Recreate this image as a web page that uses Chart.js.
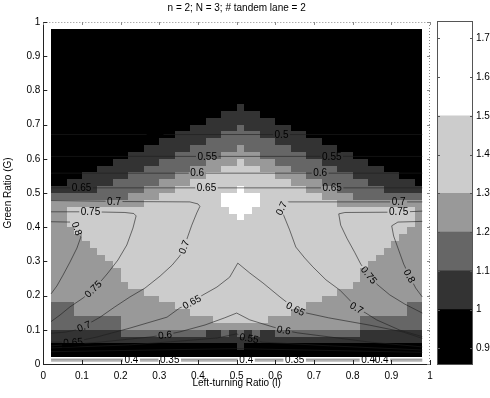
<!DOCTYPE html>
<html>
<head>
<meta charset="utf-8">
<script src="https://cdn.jsdelivr.net/npm/chart.js@4.4.0/dist/chart.umd.min.js"></script>
<style>
  html, body { margin: 0; padding: 0; background: #fff; }
  #wrap { position: relative; width: 490px; height: 398px; }
  #main { position: absolute; left: 0; top: 0; }
  #bar { position: absolute; left: 430px; top: 0; }
</style>
</head>
<body>
<div id="wrap">
  <canvas id="main" width="490" height="398"></canvas>
  <canvas id="bar" width="60" height="398"></canvas>
</div>
<script>
// grid nodes (left-turning ratio l, green ratio G)
const ratioL = [0.02,0.04,0.06,0.08,0.10,0.12,0.14,0.16,0.18,0.20,0.22,0.24,0.26,0.28,0.30,0.32,0.34,0.36,0.38,0.40,0.42,0.44,0.46,0.48,0.50,0.52,0.54,0.56,0.58,0.60,0.62,0.64,0.66,0.68,0.70,0.72,0.74,0.76,0.78,0.80,0.82,0.84,0.86,0.88,0.90,0.92,0.94,0.96,0.98];
const ratioG = [0.02,0.04,0.06,0.08,0.10,0.12,0.14,0.16,0.18,0.20,0.22,0.24,0.26,0.28,0.30,0.32,0.34,0.36,0.38,0.40,0.42,0.44,0.46,0.48,0.50,0.52,0.54,0.56,0.58,0.60,0.62,0.64,0.66,0.68,0.70,0.72,0.74,0.76,0.78,0.80,0.82,0.84,0.86,0.88,0.90,0.92,0.94,0.96,0.98];

// colour band of each cell (0: <1.0, 1: 1.0-1.1, 2: 1.1-1.2, 3: 1.2-1.3, 4: 1.3-1.5, 5: >1.5), top row first
const bandRows = [
  '0000000000000000000000000' + '00000000000000000000000',
  '0000000000000000000000000' + '00000000000000000000000',
  '0000000000000000000000000' + '00000000000000000000000',
  '0000000000000000000000000' + '00000000000000000000000',
  '0000000000000000000000000' + '00000000000000000000000',
  '0000000000000000000000000' + '00000000000000000000000',
  '0000000000000000000000000' + '00000000000000000000000',
  '0000000000000000000000000' + '00000000000000000000000',
  '0000000000000000000000000' + '00000000000000000000000',
  '0000000000000000000000000' + '00000000000000000000000',
  '0000000000000000000000000' + '00000000000000000000000',
  '0000000000000000000000001' + '00000000000000000000000',
  '0000000000000000000000111' + '11000000000000000000000',
  '0000000000000000000011111' + '11110000000000000000000',
  '0000000000000000001111112' + '11111100000000000000000',
  '0000000000000000111111222' + '22111111000000000000000',
  '0000000000000011111122222' + '22221111110000000000000',
  '0000000000001111112222223' + '22222211111100000000000',
  '0000000000111111222222333' + '33222222111111000000000',
  '0000000011111122222233334' + '33332222221111110000000',
  '0000001111112222223333444' + '44333322222211111100000',
  '0000111111222222333344444' + '44443333222222111111000',
  '0011111122222233334444444' + '44444433332222221111110',
  '1111112222223333444444445' + '44444444333322222211111',
  '2222222222333344444444555' + '55444444443333222222222',
  '3333333333334444444444555' + '55444444444433333333333',
  '3344444444444444444444455' + '54444444444444444444443',
  '3344444444444444444444445' + '44444444444444444444443',
  '3344444444444444444444444' + '44444444444444444444443',
  '3334444444444444444444444' + '44444444444444444444433',
  '3333444444444444444444444' + '44444444444444444444333',
  '3333344444444444444444444' + '44444444444444444443333',
  '3333334444444444444444444' + '44444444444444444433333',
  '3333333444444444444444444' + '44444444444444444333333',
  '3333333344444444444444444' + '44444444444444443333333',
  '3333333334444444444444444' + '44444444444444433333333',
  '3333333334444444444444444' + '44444444444444433333333',
  '3333333333444444444444444' + '44444444444444333333333',
  '3333333333334444444444444' + '44444444444433333333333',
  '3333333333333344444444444' + '44444444443333333333333',
  '2223333333333333444444444' + '44444444333333333333322',
  '2223333333333333334444444' + '44444433333333333333322',
  '2222222223333333333334444' + '44433333333333322222222',
  '2222222223333333333333333' + '33333333333333322222222',
  '1111111112222222222211212' + '12112222222222211111111',
  '1111111111111111111111111' + '11111111111111111111111',
  '0000000000000000000000001' + '00000000000000000000000',
  '0000000000000000000000000' + '00000000000000000000000'
];

const bandEdges = [0.857, 1.0, 1.1, 1.2, 1.3, 1.5, 1.745];
const bandShades = ['#000000', '#333333', '#666666', '#999999', '#cccccc', '#ffffff'];

// contour lines [l, G]
const c050 = [[0.02,0.671],[0.98,0.671]];
const c055 = [[0.02,0.607],[0.98,0.607]];
const c060 = [[0.02,0.558],[0.98,0.558]];
const c065 = [[0.02,0.515],[0.98,0.515]];
const c070left = [[0.02,0.478],[0.159,0.476],[0.209,0.475],[0.379,0.474],[0.4,0.468],[0.405,0.461],[0.397,0.442],[0.384,0.406],[0.374,0.374],[0.364,0.342],[0.353,0.316],[0.333,0.289],[0.302,0.257],[0.263,0.222],[0.224,0.196],[0.185,0.167],[0.147,0.137],[0.105,0.11],[0.087,0.1],[0.056,0.093],[0.02,0.09]];
const c070right = [[0.98,0.474],[0.919,0.474],[0.635,0.474],[0.622,0.469],[0.616,0.455],[0.619,0.442],[0.637,0.392],[0.653,0.342],[0.676,0.31],[0.697,0.284],[0.731,0.246],[0.767,0.216],[0.792,0.187],[0.81,0.164],[0.834,0.149],[0.862,0.129],[0.922,0.099],[0.98,0.08]];
const c075left = [[0.02,0.445],[0.122,0.445],[0.211,0.443],[0.234,0.44],[0.24,0.433],[0.232,0.398],[0.216,0.348],[0.193,0.304],[0.167,0.266],[0.152,0.246],[0.129,0.219],[0.103,0.193],[0.069,0.167],[0.043,0.143],[0.02,0.124]];
const c075right = [[0.98,0.447],[0.919,0.444],[0.78,0.443],[0.764,0.439],[0.769,0.406],[0.785,0.368],[0.805,0.327],[0.821,0.292],[0.842,0.26],[0.862,0.234],[0.896,0.202],[0.935,0.175],[0.98,0.149]];
const c080left = [[0.02,0.416],[0.069,0.415],[0.087,0.396],[0.097,0.371],[0.087,0.339],[0.069,0.298],[0.051,0.26],[0.035,0.228],[0.02,0.205]];
const c080right = [[0.98,0.417],[0.917,0.415],[0.901,0.404],[0.906,0.374],[0.919,0.333],[0.932,0.292],[0.947,0.257],[0.963,0.222],[0.98,0.196]];
const c065low = [[0.02,0.064],[0.077,0.064],[0.139,0.079],[0.224,0.105],[0.32,0.137],[0.353,0.164],[0.384,0.181],[0.413,0.202],[0.449,0.225],[0.482,0.254],[0.503,0.295],[0.534,0.266],[0.568,0.237],[0.612,0.196],[0.652,0.161],[0.681,0.149],[0.738,0.135],[0.842,0.114],[0.929,0.094],[0.98,0.075]];
const c060low = [[0.02,0.053],[0.147,0.064],[0.276,0.079],[0.315,0.085],[0.353,0.094],[0.418,0.114],[0.469,0.135],[0.5,0.149],[0.534,0.129],[0.586,0.111],[0.622,0.099],[0.658,0.091],[0.741,0.079],[0.844,0.064],[0.98,0.05]];
const c055low = [[0.02,0.047],[0.224,0.056],[0.353,0.067],[0.449,0.076],[0.5,0.088],[0.532,0.075],[0.565,0.064],[0.741,0.053],[0.98,0.041]];
const c050low = [[0.02,0.036],[0.5,0.045],[0.98,0.034]];
const c040 = [[0.02,0.014],[0.98,0.014]];
const c035 = [[0.02,0.009],[0.98,0.009]];

// [text, l, G, angle in degrees]
const contourLabels = [
  ['0.5', 0.289, 0.671, 0], ['0.5', 0.616, 0.671, 0],
  ['0.55', 0.424, 0.607, 0], ['0.55', 0.746, 0.607, 0],
  ['0.6', 0.398, 0.558, 0], ['0.6', 0.716, 0.558, 0],
  ['0.65', 0.099, 0.515, 0], ['0.65', 0.422, 0.515, 0], ['0.65', 0.747, 0.515, 0],
  ['0.7', 0.183, 0.475, 0], ['0.7', 0.364, 0.342, -68], ['0.7', 0.105, 0.11, -22],
  ['0.7', 0.919, 0.474, 0], ['0.7', 0.616, 0.455, -65], ['0.7', 0.81, 0.164, 30],
  ['0.75', 0.122, 0.445, 0], ['0.75', 0.129, 0.219, -45],
  ['0.75', 0.919, 0.444, 0], ['0.75', 0.842, 0.26, 52],
  ['0.8', 0.087, 0.396, 70], ['0.8', 0.947, 0.257, 62],
  ['0.65', 0.077, 0.064, -4], ['0.65', 0.384, 0.181, -28], ['0.65', 0.652, 0.161, 27],
  ['0.6', 0.315, 0.085, -6], ['0.6', 0.622, 0.099, 12],
  ['0.55', 0.532, 0.075, 10],
  ['0.4', 0.228, 0.012, 0], ['0.35', 0.327, 0.012, 0], ['0.4', 0.525, 0.012, 0],
  ['0.35', 0.65, 0.012, 0], ['0.4', 0.84, 0.012, 0], ['0.4', 0.875, 0.012, 0]
];

const fontFam = "'Liberation Sans', Arial, Helvetica, sans-serif";
const textFont = { family: fontFam, size: 10, weight: 'normal' };
const tickText = v => String(Math.round(v * 10) / 10);

const lineSet = pts => ({
  data: pts.map(p => ({ x: p[0], y: p[1] })),
  showLine: true,
  borderColor: '#1e1e1e',
  borderWidth: 0.6,
  pointRadius: 0,
  pointHoverRadius: 0,
  tension: 0,
  fill: false
});

const shadePlugin = {
  id: 'shades',
  beforeDatasetsDraw(chart) {
    const { ctx, scales: { x, y } } = chart;
    const n = bandRows.length;
    ctx.save();
    bandRows.forEach((row, r) => {
      const j = n - 1 - r;
      const top = Math.round(y.getPixelForValue(ratioG[j + 1]));
      const bot = Math.round(y.getPixelForValue(ratioG[j]));
      for (let k = 0; k < row.length; k++) {
        const left = Math.round(x.getPixelForValue(ratioL[k]));
        const right = Math.round(x.getPixelForValue(ratioL[k + 1]));
        ctx.fillStyle = bandShades[Number(row[k])];
        ctx.fillRect(left, top, right - left, bot - top);
      }
    });
    ctx.restore();
    // leave gaps in the contour lines where the labels sit
    ctx.save();
    ctx.font = `10px ${fontFam}`;
    ctx.beginPath();
    ctx.rect(0, 0, chart.width, chart.height);
    contourLabels.forEach(([txt, l, g, deg]) => {
      const cx = x.getPixelForValue(l), cy = y.getPixelForValue(g);
      const hw = ctx.measureText(txt).width / 2 + 1.5, hh = 4.5;
      const c = Math.cos(deg * Math.PI / 180), s = Math.sin(deg * Math.PI / 180);
      [[-hw, -hh], [hw, -hh], [hw, hh], [-hw, hh]].forEach(([dx, dy], i) => {
        const px = cx + c * dx - s * dy, py = cy + s * dx + c * dy;
        if (i) ctx.lineTo(px, py); else ctx.moveTo(px, py);
      });
      ctx.closePath();
    });
    ctx.clip('evenodd');
  },
  afterDatasetsDraw(chart) {
    const { ctx, scales: { x, y } } = chart;
    ctx.restore();
    ctx.save();
    ctx.font = `10px ${fontFam}`;
    ctx.fillStyle = '#000';
    ctx.textAlign = 'center';
    ctx.textBaseline = 'middle';
    contourLabels.forEach(([txt, l, g, deg]) => {
      ctx.save();
      ctx.translate(x.getPixelForValue(l), y.getPixelForValue(g));
      ctx.rotate(deg * Math.PI / 180);
      ctx.fillText(txt, 0, 0.5);
      ctx.restore();
    });
    ctx.restore();
  }
};

const axesPlugin = {
  id: 'axesBox',
  afterDraw(chart) {
    const { ctx, chartArea: a, scales: { x, y } } = chart;
    ctx.save();
    ctx.lineWidth = 1;
    ctx.strokeStyle = '#8a8a8a';
    ctx.setLineDash([1, 2]);
    ctx.beginPath();
    ctx.moveTo(a.left, Math.round(a.top) + 0.5);
    ctx.lineTo(a.right, Math.round(a.top) + 0.5);
    ctx.moveTo(Math.round(a.right) - 0.5, a.top);
    ctx.lineTo(Math.round(a.right) - 0.5, a.bottom);
    ctx.stroke();
    ctx.setLineDash([]);
    ctx.beginPath();
    x.ticks.forEach(t => {
      const px = Math.round(x.getPixelForValue(t.value)) + 0.5;
      ctx.moveTo(px, a.top);
      ctx.lineTo(px, a.top + 3);
    });
    y.ticks.forEach(t => {
      const py = Math.round(y.getPixelForValue(t.value)) + 0.5;
      ctx.moveTo(a.right, py);
      ctx.lineTo(a.right - 3, py);
    });
    ctx.stroke();
    ctx.strokeStyle = '#222';
    ctx.beginPath();
    x.ticks.forEach(t => {
      const px = Math.round(x.getPixelForValue(t.value)) + 0.5;
      ctx.moveTo(px, a.bottom);
      ctx.lineTo(px, a.bottom - 4);
    });
    y.ticks.forEach(t => {
      const py = Math.round(y.getPixelForValue(t.value)) + 0.5;
      ctx.moveTo(a.left, py);
      ctx.lineTo(a.left + 4, py);
    });
    ctx.stroke();
    ctx.restore();
  }
};

new Chart(document.getElementById('main'), {
  type: 'scatter',
  data: {
    datasets: [c050, c055, c060, c065, c070left, c070right, c075left, c075right, c080left, c080right,
      c065low, c060low, c055low, c050low, c040, c035].map(lineSet)
  },
  options: {
    responsive: false,
    animation: false,
    events: [],
    layout: { padding: { left: 0, right: 60, top: 0, bottom: 0 } },
    plugins: {
      legend: { display: false },
      tooltip: { enabled: false },
      title: {
        display: true,
        text: 'n = 2; N = 3; # tandem lane = 2',
        color: '#000',
        font: textFont,
        padding: { top: 2, bottom: 8 },
        fullSize: false
      }
    },
    scales: {
      x: {
        type: 'linear', min: 0, max: 1,
        ticks: { stepSize: 0.1, color: '#000', font: textFont, padding: 6, maxRotation: 0, autoSkip: false, callback: tickText },
        grid: { display: true, drawOnChartArea: false, drawTicks: false },
        border: { display: true, color: '#222', width: 1 },
        title: { display: true, text: 'Left-turning Ratio (l)', color: '#000', font: textFont, padding: { top: 0, bottom: 9 } },
        afterFit(s) { s.height = 34; }
      },
      y: {
        type: 'linear', min: 0, max: 1,
        ticks: { stepSize: 0.1, color: '#000', font: textFont, padding: 3, autoSkip: false, callback: tickText },
        grid: { display: true, drawOnChartArea: false, drawTicks: false },
        border: { display: true, color: '#222', width: 1 },
        title: { display: true, text: 'Green Ratio (G)', color: '#000', font: textFont, padding: { top: 2, bottom: 0 } },
        afterFit(s) { s.width = 43.3; }
      }
    }
  },
  plugins: [shadePlugin, axesPlugin]
});

// colour bar
const barFrame = {
  id: 'barFrame',
  afterDraw(chart) {
    const { ctx, chartArea: a, scales: { y } } = chart;
    ctx.save();
    ctx.strokeStyle = '#555';
    ctx.lineWidth = 1;
    ctx.strokeRect(Math.round(a.left) + 0.5, Math.round(a.top) + 0.5, Math.round(a.right - a.left) - 1, Math.round(a.bottom - a.top) - 1);
    ctx.beginPath();
    y.ticks.forEach(t => {
      const py = Math.round(y.getPixelForValue(t.value)) + 0.5;
      ctx.moveTo(a.left, py); ctx.lineTo(a.left + 3, py);
      ctx.moveTo(a.right, py); ctx.lineTo(a.right - 3, py);
    });
    ctx.stroke();
    ctx.restore();
  }
};

new Chart(document.getElementById('bar'), {
  type: 'bar',
  data: {
    labels: [''],
    datasets: bandShades.map((c, i) => ({
      data: [[bandEdges[i], bandEdges[i + 1]]],
      backgroundColor: c,
      borderWidth: 0,
      barPercentage: 1,
      categoryPercentage: 1,
      grouped: false
    }))
  },
  options: {
    responsive: false,
    animation: false,
    events: [],
    layout: { padding: { left: 7, right: 0, top: 21, bottom: 33 } },
    plugins: { legend: { display: false }, tooltip: { enabled: false } },
    scales: {
      x: { display: false },
      y: {
        position: 'right', min: 0.857, max: 1.745,
        ticks: { stepSize: 0.1, includeBounds: false, color: '#000', font: textFont, padding: 3, callback: tickText },
        grid: { display: true, drawOnChartArea: false, drawTicks: false },
        border: { display: false },
        afterFit(s) { s.width = 17; }
      }
    }
  },
  plugins: [barFrame]
});
</script>
</body>
</html>
